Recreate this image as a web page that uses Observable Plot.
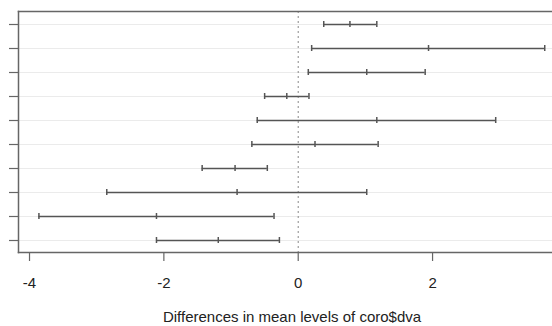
<!DOCTYPE html>
<html>
<head>
<meta charset="utf-8">
<script src="https://cdn.jsdelivr.net/npm/d3@7"></script>
<script src="https://cdn.jsdelivr.net/npm/@observablehq/plot@0.6"></script>
<style>
  html, body { margin: 0; padding: 0; background: #fff; }
  svg { display: block; }
</style>
</head>
<body>
<div id="chart"></div>
<script>
const comparisons = ["B-A","C-A","D-A","E-A","C-B","D-B","E-B","D-C","E-C","E-D"];
const diffs = [0.77, 1.94, 1.02, -0.17, 1.17, 0.25, -0.94, -0.91, -2.11, -1.19];
const lowers = [0.38, 0.20, 0.15, -0.50, -0.61, -0.69, -1.43, -2.85, -3.86, -2.11];
const uppers = [1.17, 3.67, 1.89, 0.16, 2.94, 1.19, -0.46, 1.02, -0.36, -0.28];
const xTicks = [-4, -2, 0, 2];
const xTitle = "Differences in mean levels of coro$dva";

const rows = comparisons.map((c, i) => ({comp: c, diff: diffs[i], lwr: lowers[i], upr: uppers[i]}));

const lineColor = "#555";
const frameColor = "#666";
const textColor = "#222";
const cap = {y1: "comp", y2: "comp", stroke: lineColor, strokeWidth: 1.5, insetTop: -3, insetBottom: -3};

const chart = Plot.plot({
  width: 552,
  height: 326,
  marginLeft: 18,
  marginRight: -13,
  marginTop: 11,
  marginBottom: 74,
  style: {fontFamily: "'Liberation Sans', Arial, sans-serif", fontSize: "15px", color: textColor, background: "#fff"},
  x: {domain: [-4.164, 3.979]},
  y: {type: "point", domain: comparisons, padding: 0.34},
  marks: [
    Plot.gridY(comparisons, {stroke: "#ebebeb", strokeOpacity: 1}),
    Plot.ruleX([0], {stroke: "#888", strokeDasharray: "2,3", strokeWidth: 1}),
    Plot.ruleY(rows, {y: "comp", x1: "lwr", x2: "upr", stroke: lineColor, strokeWidth: 1.5}),
    Plot.ruleX(rows, {x: "lwr", ...cap}),
    Plot.ruleX(rows, {x: "diff", ...cap}),
    Plot.ruleX(rows, {x: "upr", ...cap}),
    Plot.frame({anchor: "top", stroke: frameColor, strokeWidth: 1.5}),
    Plot.frame({anchor: "left", stroke: frameColor, strokeWidth: 1.5}),
    Plot.frame({anchor: "bottom", stroke: frameColor, strokeWidth: 1.5}),
    Plot.axisY({ticks: comparisons, tickSize: 9, tickFormat: () => "", stroke: frameColor, strokeWidth: 1.2, label: null}),
    Plot.axisX({ticks: xTicks, tickSize: 9, tickPadding: 16, tickFormat: d => d.toString().replace("−", "-"), stroke: frameColor, strokeWidth: 1.2, fill: textColor, label: null, fontSize: 15}),
    Plot.text([xTitle], {frameAnchor: "bottom", dy: 64.7, lineAnchor: "middle", fill: textColor, fontSize: 15})
  ]
});
document.getElementById("chart").appendChild(chart);
</script>
</body>
</html>
